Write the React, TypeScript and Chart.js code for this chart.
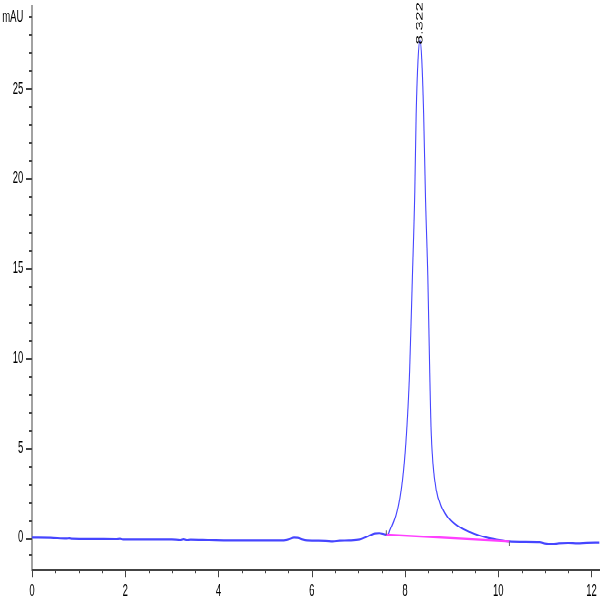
import React, { useRef, useEffect } from 'react';
import Chart from 'chart.js/auto';

// retention time (min) and absorbance (mAU)
const timeMin = [
  0.0, 0.4, 0.74, 0.8, 0.86, 1.3, 1.8, 1.89, 1.95, 2.5, 3.0, 3.18, 3.25, 3.32, 3.4, 3.8,
  4.24, 4.8, 5.38, 5.5, 5.62, 5.7, 5.8, 5.9, 6.3, 6.45, 6.6, 6.8, 7.03, 7.2, 7.35, 7.45,
  7.55, 7.63, 7.67, 7.72, 7.78, 7.835, 7.885, 7.93, 7.96, 8.0, 8.04, 8.07, 8.1, 8.16, 8.21,
  8.24, 8.28, 8.322, 8.36, 8.4, 8.44, 8.49, 8.53, 8.56, 8.6, 8.67, 8.78, 8.87, 8.96, 9.17,
  9.39, 9.6, 9.8, 10.03, 10.24, 10.5, 10.89, 11.0, 11.16, 11.3, 11.5, 11.7, 11.9, 12.17,
];
const signalMAU = [
  -0.02, -0.03, -0.07, -0.05, -0.08, -0.09, -0.1, -0.08, -0.12, -0.12, -0.12, -0.15, -0.11, -0.15, -0.13, -0.15,
  -0.17, -0.17, -0.17, -0.12, -0.02, -0.03, -0.12, -0.17, -0.19, -0.22, -0.18, -0.17, -0.12, 0.05, 0.22, 0.24,
  0.18, 0.15, 0.38, 0.66, 1.02, 1.5, 2.1, 2.85, 3.5, 4.6, 6.1, 7.5, 9.3, 14.6, 19.2,
  23.6, 26.6, 27.7, 26.6, 23.6, 18.9, 14.5, 9.3, 6.0, 4.1, 2.64, 1.71, 1.3, 1.0, 0.58,
  0.3, 0.1, -0.04, -0.15, -0.22, -0.24, -0.26, -0.33, -0.36, -0.32, -0.3, -0.32, -0.29, -0.28,
];

// integration baseline (start, end)
const baselineTime = [7.6, 10.24];
const baselineMAU = [0.15, -0.22];

const peakTime = 8.322;
const peakHeight = 27.7;
const peakLabel = '8.322';

const xTicks = [
  0, 0.5, 1, 1.5, 2, 2.5, 3, 3.5, 4, 4.5, 5, 5.5, 6, 6.5, 7, 7.5, 8, 8.5, 9, 9.5, 10, 10.5, 11, 11.5, 12,
];
const yTicks = [
  -1, 0, 1, 2, 3, 4, 5, 6, 7, 8, 9, 10, 11, 12, 13, 14, 15, 16, 17, 18, 19, 20, 21, 22, 23, 24, 25, 26, 27, 28, 29,
];
const yUnitTick = 29;
const yUnit = 'mAU';

// the reference is stretched vertically, so draw flat and scale it up
const STRETCH = 1.8;
const FONT = 'Liberation Sans, Arial, sans-serif';

const App: React.FC = () => {
  const canvasRef = useRef<HTMLCanvasElement>(null);
  const chartRef = useRef<Chart | null>(null);

  useEffect(() => {
    if (!canvasRef.current) return;
    if (chartRef.current) chartRef.current.destroy();

    const marks = {
      id: 'marks',
      afterDraw(chart: any) {
        const { ctx, chartArea, scales } = chart;
        const x = scales.x;
        const y = scales.y;
        ctx.save();
        ctx.strokeStyle = '#444';
        ctx.lineWidth = 1;
        ctx.beginPath();
        // y ticks: long every 5, short otherwise
        y.ticks.forEach((t: any) => {
          const py = Math.round(y.getPixelForValue(t.value)) + 0.5;
          const len = t.value % 5 === 0 ? 6 : 3;
          ctx.moveTo(chartArea.left - len, py);
          ctx.lineTo(chartArea.left, py);
        });
        // x ticks: long at labelled values
        x.ticks.forEach((t: any) => {
          const px = Math.round(x.getPixelForValue(t.value)) + 0.5;
          const len = t.value % 2 === 0 ? 4 : 2;
          ctx.moveTo(px, chartArea.bottom);
          ctx.lineTo(px, chartArea.bottom + len);
        });
        ctx.stroke();

        // baseline start / end markers
        ctx.strokeStyle = '#666';
        ctx.beginPath();
        const sx = x.getPixelForValue(baselineTime[0]);
        const sy = y.getPixelForValue(baselineMAU[0]);
        ctx.moveTo(sx, sy);
        ctx.lineTo(sx, sy - 2.4);
        const ex = x.getPixelForValue(baselineTime[1]);
        const ey = y.getPixelForValue(baselineMAU[1]);
        ctx.moveTo(ex, ey);
        ctx.lineTo(ex, ey + 2.8);
        ctx.stroke();

        // peak retention time label, vertical
        ctx.translate(x.getPixelForValue(peakTime), y.getPixelForValue(peakHeight));
        ctx.rotate(-Math.PI / 2);
        ctx.fillStyle = '#000';
        ctx.font = `9.5px ${FONT}`;
        ctx.textAlign = 'left';
        ctx.textBaseline = 'middle';
        ctx.fillText(peakLabel, -2.5, 0);
        ctx.restore();
      },
    };

    chartRef.current = new Chart(canvasRef.current, {
      type: 'line',
      data: {
        datasets: [
          {
            data: baselineTime.map((t, i) => ({ x: t, y: baselineMAU[i] })),
            borderColor: '#ff40ff',
            borderWidth: 1.2,
            pointRadius: 0,
          },
          {
            data: timeMin.map((t, i) => ({ x: t, y: signalMAU[i] })),
            borderColor: 'rgb(70,70,255)',
            borderWidth: 1.1,
            pointRadius: 0,
            cubicInterpolationMode: 'monotone',
          },
        ],
      },
      options: {
        animation: false,
        responsive: true,
        maintainAspectRatio: false,
        devicePixelRatio: 2,
        layout: { padding: { top: 2.8, left: 0, right: 0, bottom: 0 } },
        plugins: { legend: { display: false }, tooltip: { enabled: false } },
        scales: {
          x: {
            type: 'linear',
            min: 0,
            max: 12.17,
            grid: { display: false, drawTicks: false },
            border: { display: true, color: '#444', width: 1 },
            afterBuildTicks: (s: any) => {
              s.ticks = xTicks.map((v) => ({ value: v }));
            },
            afterFit: (s: any) => {
              s.height = 600 / STRETCH - 316.7;
              s.paddingLeft = 0;
              s.paddingRight = 0;
              s.paddingTop = 0;
              s.paddingBottom = 0;
            },
            ticks: {
              autoSkip: false,
              maxRotation: 0,
              padding: 6,
              color: '#000',
              font: { family: FONT, size: 9.5 },
              callback: (v: any) => (Number(v) % 2 === 0 ? String(v) : ''),
            },
          },
          y: {
            type: 'linear',
            min: -1.82,
            max: 29.65,
            grid: { display: false, drawTicks: false },
            border: { display: true, color: '#444', width: 1 },
            afterBuildTicks: (s: any) => {
              s.ticks = yTicks.map((v) => ({ value: v }));
            },
            afterFit: (s: any) => {
              s.width = 32;
              s.paddingLeft = 0;
              s.paddingRight = 0;
              s.paddingTop = 0;
              s.paddingBottom = 0;
            },
            ticks: {
              autoSkip: false,
              padding: 8.7,
              color: '#000',
              font: { family: FONT, size: 9.5 },
              callback: (v: any) => {
                const n = Number(v);
                if (n === yUnitTick) return yUnit;
                return n % 5 === 0 ? String(n) : '';
              },
            },
          },
        },
      },
      plugins: [marks],
    } as any);

    return () => {
      if (chartRef.current) {
        chartRef.current.destroy();
        chartRef.current = null;
      }
    };
  }, []);

  return (
    <div
      style={{
        position: 'fixed',
        left: 0,
        top: 0,
        width: 600,
        height: 600 / STRETCH,
        transform: `scaleY(${STRETCH})`,
        transformOrigin: '0 0',
        background: '#fff',
      }}
    >
      <canvas ref={canvasRef} />
    </div>
  );
};

export default App;
